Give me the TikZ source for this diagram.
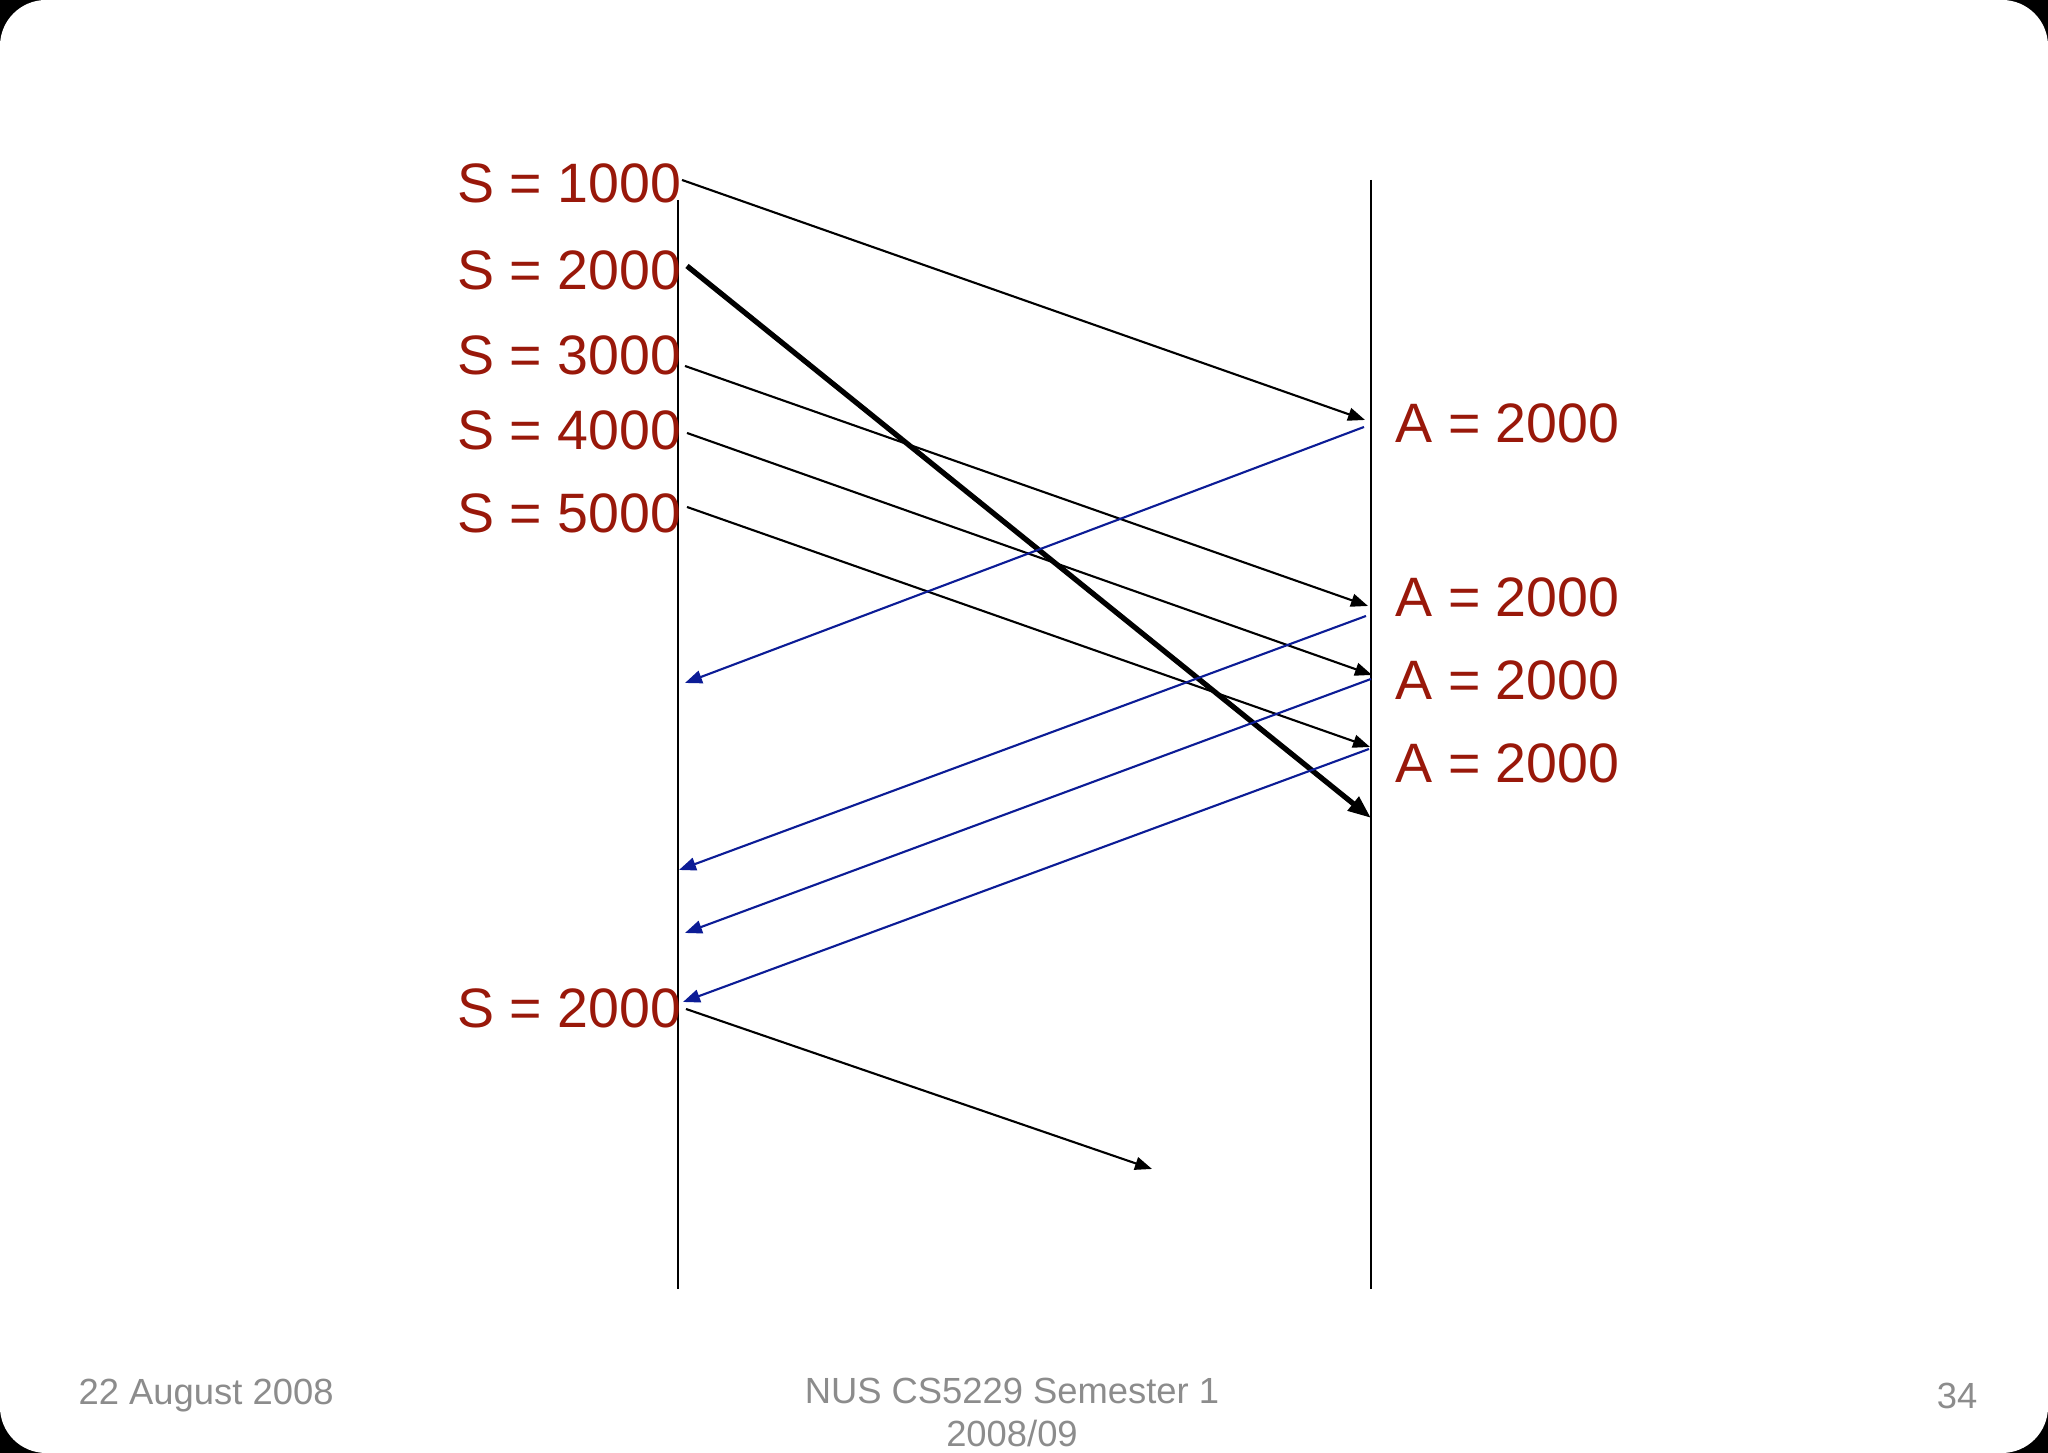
\documentclass[tikz,border=0pt]{standalone}
\usepackage{fontspec}
\setmainfont{Liberation Sans}
\usetikzlibrary{arrows.meta, positioning}
\definecolor{slidered}{RGB}{153,24,10}
\definecolor{ackblue}{RGB}{12,28,150}
\definecolor{footgray}{RGB}{140,140,140}
\tikzset{
    % vertical time lines of sender and receiver
    lifeline/.style={line width=0.6pt},
    % data segment sent left to right
    seg/.style={-{Triangle[length=0.17cm, width=0.13cm]}, line width=0.6pt},
    % the retransmitted segment, drawn heavier
    bigseg/.style={-{Triangle[length=0.23cm, width=0.17cm]}, line width=1.5pt},
    % acknowledgement going back
    ack/.style={-{Triangle[length=0.17cm, width=0.13cm]}, line width=0.6pt, ackblue},
    % sequence / ack numbers
    seqlbl/.style={text=slidered, inner sep=0pt, anchor=base east,
        font=\fontsize{15.8}{19}\selectfont},
    acklbl/.style={text=slidered, inner sep=0pt, anchor=base west,
        font=\fontsize{15.8}{19}\selectfont},
    % slide footer
    foot/.style={text=footgray, inner sep=0pt, anchor=base,
        font=\fontsize{10.35}{12.5}\selectfont},
}

\begin{document}
\begin{tikzpicture}[>=Latex]

    % ---- slide ----
    \fill[black] (0,0) rectangle (20.48,14.53);
    \fill[white, rounded corners=0.46cm] (0,0) rectangle (20.48,14.53);
    \useasboundingbox (0,0) rectangle (20.48,14.53);

    % ---- time lines ----
    \coordinate (sTop) at (6.78, 12.53);
    \coordinate (sBot) at (6.78, 1.64);
    \coordinate (rTop) at (13.71, 12.73);
    \coordinate (rBot) at (13.71, 1.64);
    \draw[lifeline] (sTop) -- (sBot);
    \draw[lifeline] (rTop) -- (rBot);

    % ---- sequence numbers ----
    \node[seqlbl] (s1) at (6.82, 12.50) {S = 1000};
    \node[seqlbl] (s2) at (6.82, 11.63) {S = 2000};
    \node[seqlbl] (s3) at (6.82, 10.78) {S = 3000};
    \node[seqlbl] (s4) at (6.82, 10.03) {S = 4000};
    \node[seqlbl] (s5) at (6.82, 9.20)  {S = 5000};
    \node[seqlbl] (s6) at (6.82, 4.25)  {S = 2000};

    % ---- ack numbers ----
    \node[acklbl] (a1) at (13.95, 10.10) {A = 2000};
    \node[acklbl] (a2) at (13.95, 8.36)  {A = 2000};
    \node[acklbl] (a3) at (13.95, 7.53)  {A = 2000};
    \node[acklbl] (a4) at (13.95, 6.70)  {A = 2000};

    % ---- segment end points ----
    \coordinate (tx1) at (6.82, 12.73);  \coordinate (rx1) at (13.65, 10.33);
    \coordinate (tx2) at (6.87, 11.87);  \coordinate (rx2) at (13.71, 6.35);
    \coordinate (tx3) at (6.85, 10.87);  \coordinate (rx3) at (13.68, 8.47);
    \coordinate (tx4) at (6.87, 10.20);  \coordinate (rx4) at (13.72, 7.78);
    \coordinate (tx5) at (6.87, 9.46);   \coordinate (rx5) at (13.70, 7.06);
    \coordinate (tx6) at (6.86, 4.44);   \coordinate (rx6) at (11.52, 2.84);

    \foreach \i in {1,3,4,5,6}{ \draw[seg] (tx\i) -- (rx\i); }
    \draw[bigseg] (tx2) -- (rx2);

    % ---- ack end points ----
    \coordinate (ak1) at (13.64, 10.26); \coordinate (ar1) at (6.85, 7.70);
    \coordinate (ak2) at (13.66, 8.37);  \coordinate (ar2) at (6.79, 5.83);
    \coordinate (ak3) at (13.71, 7.74);  \coordinate (ar3) at (6.85, 5.20);
    \coordinate (ak4) at (13.69, 7.04);  \coordinate (ar4) at (6.83, 4.51);

    \foreach \i in {1,...,4}{ \draw[ack] (ak\i) -- (ar\i); }

    % ---- footer ----
    \node[foot, anchor=base west] (date) at (0.78, 0.48) {22 August 2008};
    \node[foot] (course) at (10.12, 0.49) {NUS CS5229 Semester 1};
    \node[foot] (term)   at (10.12, 0.06) {2008/09};
    \node[foot] (page)   at (19.57, 0.44) {34};

\end{tikzpicture}
\end{document}
